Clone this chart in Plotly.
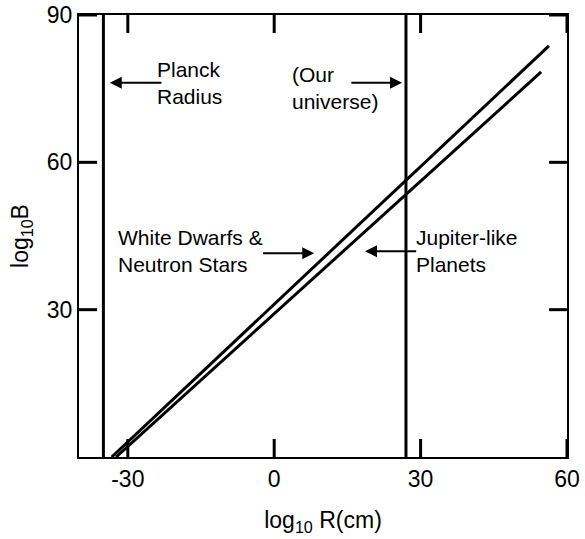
import plotly.graph_objects as go

# Scale limits (log10 R in cm)
planck_radius = -35
universe_radius = 27

# Two B(R) relations: endpoints read in (log10 R, log10 B)
wd_ns_R = [-33.3, 56.3]
wd_ns_B = [0.0, 83.7]
jup_R = [-32.4, 54.7]
jup_B = [0.0, 78.4]

x_ticks = [-30, 0, 30, 60]
y_ticks = [30, 60, 90]
x_range = [-40, 60]
y_range = [0, 90]

FONT = "Liberation Sans, Arial, Helvetica, sans-serif"
W, H = 585, 539
MARGIN = dict(l=79, r=18, t=15, b=82)
TICK_PX = 18
line_style = dict(color="black", width=3)
tick_style = dict(color="black", width=3)

fig = go.Figure()
fig.add_trace(go.Scatter(x=wd_ns_R, y=wd_ns_B, mode="lines", line=line_style, showlegend=False))
fig.add_trace(go.Scatter(x=jup_R, y=jup_B, mode="lines", line=line_style, showlegend=False))
for xv in (planck_radius, universe_radius):
    fig.add_trace(go.Scatter(x=[xv, xv], y=y_range, mode="lines", line=line_style, showlegend=False))

# Inward tick marks on all four sides (length given in pixels, converted to data units)
plot_w = W - MARGIN["l"] - MARGIN["r"]
plot_h = H - MARGIN["t"] - MARGIN["b"]
dx = TICK_PX * (x_range[1] - x_range[0]) / plot_w
dy = TICK_PX * (y_range[1] - y_range[0]) / plot_h

def tick(xs, ys):
    fig.add_trace(go.Scatter(x=xs, y=ys, mode="lines", line=tick_style,
                             showlegend=False, hoverinfo="skip", cliponaxis=False))

for v in x_ticks:
    tick([v, v], [y_range[0], y_range[0] + dy])
    tick([v, v], [y_range[1] - dy, y_range[1]])
for v in y_ticks:
    tick([x_range[0], x_range[0] + dx], [v, v])
    tick([x_range[1] - dx, x_range[1]], [v, v])

txt_font = dict(family=FONT, size=21, color="black")

def label(x, y, text):
    fig.add_annotation(x=x, y=y, xref="x", yref="y", text=text, showarrow=False,
                       xanchor="left", yanchor="middle", align="left", font=txt_font)

def arrow(x_tail, x_head, y):
    fig.add_annotation(x=x_head, y=y, ax=x_tail, ay=y, xref="x", yref="y",
                       axref="x", ayref="y", text="", showarrow=True,
                       arrowhead=2, arrowsize=1.2, arrowwidth=2, arrowcolor="black")

label(-24.4, 76.2, "Planck<br>Radius")
arrow(-22.8, -33.7, 76.2)

label(3.2, 75.1, "(Our<br>universe)")
arrow(15.5, 26.2, 76.2)

label(-32.5, 41.9, "White Dwarfs &<br>Neutron Stars")
arrow(-2.6, 8.2, 41.5)

label(28.6, 41.9, "Jupiter-like<br>Planets")
arrow(29.4, 18.6, 41.9)

axis_common = dict(showline=True, linecolor="black", linewidth=2, mirror="allticks",
                   ticks="inside", ticklen=TICK_PX, tickwidth=2, tickcolor="black",
                   showgrid=False, zeroline=False, automargin=False,
                   tickfont=dict(family=FONT, size=23, color="black"))

fig.update_xaxes(range=x_range, tickmode="array", tickvals=x_ticks,
                 ticktext=[str(v) for v in x_ticks],
                 title=dict(text="log<sub>10</sub> R(cm)", font=dict(family=FONT, size=23, color="black"),
                            standoff=21),
                 **axis_common)
fig.update_yaxes(range=y_range, tickmode="array", tickvals=y_ticks,
                 ticktext=[str(v) for v in y_ticks],
                 title=dict(text="log<sub>10</sub>B", font=dict(family=FONT, size=23, color="black"),
                            standoff=12),
                 **axis_common)

fig.update_layout(template="none", width=W, height=H, margin=MARGIN,
                  plot_bgcolor="white", paper_bgcolor="white")

fig.write_html("out.html")
